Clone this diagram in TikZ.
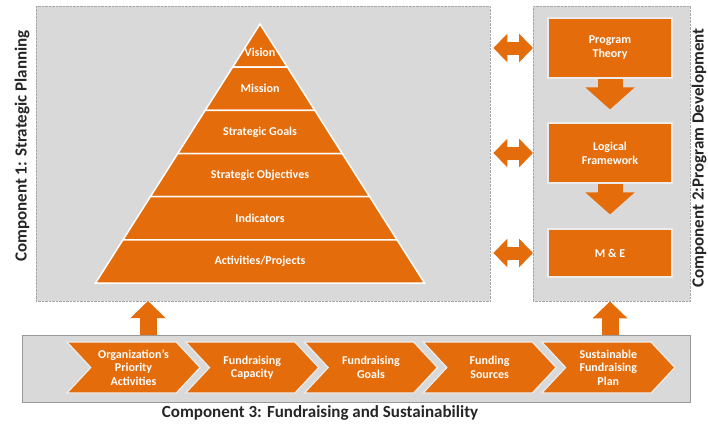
\documentclass[tikz,border=0pt]{standalone}
\usepackage{fontspec}
\setmainfont{Carlito}
\usetikzlibrary{arrows.meta, shapes.symbols, positioning}
\definecolor{planorange}{RGB}{228,108,10}
\definecolor{panelgray}{RGB}{217,217,217}
\tikzset{
panel/.style={draw=gray!70, densely dotted, fill=panelgray}, % the grey component areas
stepbox/.style={draw=white!85!gray, line width=1.2pt, fill=planorange, text=white,
  font=\bfseries\fontsize{12}{14}\selectfont, align=center, minimum width=124pt}, % orange boxes
layer/.style={fill=planorange, draw=white, line width=1.5pt}, % pyramid levels
layertext/.style={text=white, font=\bfseries\fontsize{12}{14}\selectfont},
downarrow/.style={planorange, line width=25pt, -{Triangle[width=48pt,length=22pt]}}, % fat block arrows
liftarrow/.style={planorange, line width=17pt, -{Triangle[width=34pt,length=17pt]}},
linkarrow/.style={planorange, line width=13pt,
  {Triangle[width=28pt,length=14pt]}-{Triangle[width=28pt,length=14pt]}}, % two-way arrows
chevron/.style={signal, signal from=west, signal to=east, signal pointer angle=94,
  draw=white!85!gray, line width=1.2pt, fill=planorange, text=white,
  font=\bfseries\fontsize{12}{13.5}\selectfont, align=center,
  minimum width=133pt, minimum height=51pt, inner sep=1pt},
title/.style={text=black!85, font=\bfseries\fontsize{17}{20}\selectfont},
}

\begin{document}
\begin{tikzpicture}[x=1pt, y=-1pt]
  \useasboundingbox (0,0) rectangle (708,426);

  % component areas
  \node[panel, anchor=north west, minimum width=454pt, minimum height=295pt] (plan) at (36,6) {};
  \node[panel, anchor=north west, minimum width=157pt, minimum height=295pt] (dev) at (533,6) {};
  \node[draw=gray!80, line width=0.8pt, fill=panelgray, anchor=north west,
        minimum width=668pt, minimum height=67pt] (fund) at (22,335) {};

  % pyramid
  \foreach \name [count=\i from 0] in {Vision, Mission, Strategic Goals,
      Strategic Objectives, Indicators, Activities/Projects} {
    \pgfmathsetmacro\yt{24+\i*43.17}
    \pgfmathsetmacro\yb{24+(\i+1)*43.17}
    \pgfmathsetmacro\wt{0.6351*(\yt-24)}
    \pgfmathsetmacro\wb{0.6351*(\yb-24)}
    \pgfmathsetmacro\ly{\i==0 ? \yt+28.5 : (\yt+\yb)/2}
    \filldraw[layer] (260-\wt,\yt) -- (260+\wt,\yt) -- (260+\wb,\yb) -- (260-\wb,\yb) -- cycle;
    \node[layertext] (level\i) at (260,\ly) {\name};
  }

  % program development
  \node[stepbox, minimum height=60pt] (theory) at (610,48) {Program\\Theory};
  \node[stepbox, minimum height=60pt] (frame) at (610,153) {Logical\\Framework};
  \node[stepbox, minimum height=48pt] (me) at (610,253) {M \& E};
  \draw[downarrow, shorten >=13pt] (theory) -- (frame);
  \draw[downarrow, shorten >=14pt] (frame) -- (me);

  % links between planning and development
  \foreach \stp in {theory, frame, me}
    \draw[linkarrow, shorten <=3pt] (plan.east |- \stp) -- (dev.west |- \stp);

  % fundraising steps
  \foreach \txt [count=\k from 0] in {Organization's\\Priority\\Activities,
      Fundraising\\Capacity, Fundraising\\Goals, Funding\\Sources,
      Sustainable\\Fundraising\\Plan}
    \node[chevron] (chev\k) at (133.5+118.7*\k,367.5) {\txt};

  % lifts from fundraising to the components
  \coordinate (liftA) at (148,301);
  \draw[liftarrow] (liftA |- fund.north) -- (liftA);
  \draw[liftarrow] (me |- fund.north) -- (me |- dev.south);

  % component titles
  \node[title] (comp3) at (320,413) {Component 3: Fundraising and Sustainability};
  \node[title, rotate=90] (comp1) at (22,146) {Component 1: Strategic Planning};
  \node[title, rotate=90, inner sep=0pt] (comp2) at (699,158) {Component 2:Program Development};
\end{tikzpicture}
\end{document}
